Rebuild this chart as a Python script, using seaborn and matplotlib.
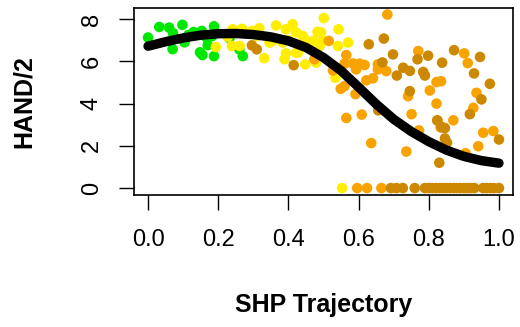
import matplotlib
matplotlib.use("Agg")
import matplotlib.pyplot as plt
import numpy as np
import pandas as pd
import seaborn as sns

# Observations, grouped by colour class
green_x = [0.000, 0.032, 0.060, 0.071, 0.098, 0.104, 0.070, 0.130, 0.153, 0.148,
           0.155, 0.170, 0.188, 0.188, 0.183, 0.270, 0.260, 0.232, 0.167, 0.115]
green_y = [7.13, 7.63, 7.60, 7.34, 7.73, 6.90, 6.58, 7.39, 7.44, 6.43,
           6.30, 6.77, 7.66, 6.25, 7.20, 6.25, 6.57, 7.10, 7.13, 7.25]

yellow_x = [0.193, 0.241, 0.268, 0.239, 0.261, 0.227, 0.297, 0.317, 0.331, 0.365,
            0.393, 0.412, 0.422, 0.441, 0.346, 0.384, 0.389, 0.393, 0.422, 0.448,
            0.479, 0.472, 0.483, 0.498, 0.501, 0.355, 0.543, 0.570, 0.541, 0.493,
            0.534, 0.553, 0.489, 0.427, 0.400, 0.450, 0.310]
yellow_y = [6.68, 7.52, 7.54, 6.73, 6.73, 7.17, 7.44, 7.57, 6.15, 7.70,
            7.52, 7.76, 7.37, 7.20, 6.89, 6.89, 6.10, 6.38, 6.41, 5.86,
            5.94, 6.97, 7.40, 6.97, 8.05, 6.97, 7.52, 6.89, 6.73, 7.37,
            5.22, 0.00, 6.73, 6.41, 7.00, 7.00, 7.20]

orange_x = [0.474, 0.515, 0.565, 0.560, 0.584, 0.603, 0.617, 0.593, 0.622, 0.560,
            0.549, 0.591, 0.641, 0.655, 0.679, 0.682, 0.565, 0.609, 0.636, 0.751,
            0.736, 0.741, 0.527, 0.770, 0.901, 0.911, 0.822, 0.835, 0.803, 0.822,
            0.936, 0.927, 0.825, 0.870, 0.834, 0.772, 0.955, 0.984, 0.941, 0.905,
            0.596, 0.624, 0.665, 0.655]
orange_y = [6.10, 6.97, 6.30, 5.89, 5.90, 5.89, 5.83, 5.62, 5.10, 4.83,
            4.70, 4.45, 5.20, 5.62, 5.54, 8.22, 3.32, 3.48, 2.13, 3.50,
            1.73, 4.35, 5.57, 6.49, 6.38, 5.92, 5.02, 5.06, 4.62, 4.00,
            4.51, 3.80, 3.19, 3.21, 2.87, 2.73, 2.62, 2.70, 1.98, 1.65,
            0.00, 0.00, 0.00, 5.86]

dark_x = [0.296, 0.310, 0.415, 0.629, 0.672, 0.698, 0.668, 0.709, 0.727, 0.746,
          0.746, 0.656, 0.768, 0.798, 0.784, 0.789, 0.838, 0.872, 0.946, 0.929,
          0.974, 0.950, 0.917, 0.824, 0.836, 0.846, 0.846, 0.852, 1.000, 0.830,
          0.692, 0.708, 0.726, 0.760, 0.789, 0.800, 0.810, 0.820, 0.830, 0.840,
          0.850, 0.860, 0.870, 0.880, 0.890, 0.900, 0.910, 0.920, 0.930, 0.955,
          0.965, 0.975, 0.985, 1.000]
dark_y = [6.76, 6.57, 5.82, 6.81, 7.08, 6.33, 5.95, 5.33, 5.70, 5.55,
          4.59, 3.68, 6.10, 6.27, 5.50, 5.33, 5.94, 6.53, 6.21, 5.43,
          4.94, 4.20, 3.50, 3.21, 2.90, 2.84, 2.35, 2.15, 2.30, 1.20,
          0.00, 0.00, 0.00, 0.00, 0.00, 0.00, 0.00, 0.00, 0.00, 0.00,
          0.00, 0.00, 0.00, 0.00, 0.00, 0.00, 0.00, 0.00, 0.00, 0.00,
          0.00, 0.00, 0.00, 0.00]

# Fitted trend
curve_x = [0.00, 0.05, 0.10, 0.15, 0.20, 0.25, 0.30, 0.35, 0.40, 0.45, 0.50,
           0.55, 0.60, 0.65, 0.70, 0.75, 0.80, 0.85, 0.90, 0.95, 1.00]
curve_y = [6.72, 6.93, 7.11, 7.24, 7.31, 7.32, 7.27, 7.16, 6.97, 6.66, 6.18,
           5.56, 4.78, 3.98, 3.26, 2.68, 2.20, 1.80, 1.50, 1.30, 1.18]

x_ticks = [0.0, 0.2, 0.4, 0.6, 0.8, 1.0]
y_ticks = [0, 2, 4, 6, 8]

palette = {"green": "#00E800", "yellow": "#FFEE00",
           "orange": "#F9A300", "dark": "#CC8800"}

points = pd.concat([
    pd.DataFrame({"x": green_x, "y": green_y, "group": "green"}),
    pd.DataFrame({"x": yellow_x, "y": yellow_y, "group": "yellow"}),
    pd.DataFrame({"x": orange_x, "y": orange_y, "group": "orange"}),
    pd.DataFrame({"x": dark_x, "y": dark_y, "group": "dark"}),
], ignore_index=True)
curve = pd.DataFrame({"x": curve_x, "y": curve_y})

sns.set_style("white")
plt.rcParams["font.family"] = ["Liberation Sans", "DejaVu Sans"]
plt.rcParams["text.color"] = "black"
plt.rcParams["axes.labelcolor"] = "black"
plt.rcParams["xtick.color"] = "black"
plt.rcParams["ytick.color"] = "black"

fig = plt.figure(figsize=(5.2, 3.27), dpi=100)
ax = fig.add_axes([134 / 520, 1 - 195 / 327, 379 / 520, 187 / 327])

sns.scatterplot(data=points, x="x", y="y", hue="group", palette=palette,
                s=58, linewidth=0, legend=False, ax=ax, zorder=2)
sns.lineplot(data=curve, x="x", y="y", color="black", linewidth=6.8,
             estimator=None, ax=ax, zorder=3, solid_capstyle="round",
             solid_joinstyle="round")

ax.set_xlim(-0.04, 1.04)
ax.set_ylim(-0.328, 8.528)
ax.set_xticks(x_ticks)
ax.set_xticklabels([f"{t:.1f}" for t in x_ticks])
ax.set_yticks(y_ticks)
ax.set_yticklabels([str(t) for t in y_ticks], rotation=90, va="center")

for side in ax.spines.values():
    side.set_visible(True)
    side.set_color("black")
    side.set_linewidth(1.2)

ax.tick_params(axis="both", direction="out", length=10.5, width=1.0,
               color="black", labelsize=17, labelcolor="black",
               left=True, bottom=True)
ax.tick_params(axis="x", pad=14)
ax.tick_params(axis="y", pad=12)

ax.set_xlabel("SHP Trajectory", fontsize=18, fontweight="bold", color="black")
ax.set_ylabel("HAND/2", fontsize=18, fontweight="bold", color="black")
ax.xaxis.label.set_va("center")
ax.yaxis.label.set_va("center")
ax.xaxis.set_label_coords(0.5, (195 - 305) / 187)
ax.yaxis.set_label_coords((24 - 134) / 379, 0.5)

fig.savefig("out.png", dpi=100)
